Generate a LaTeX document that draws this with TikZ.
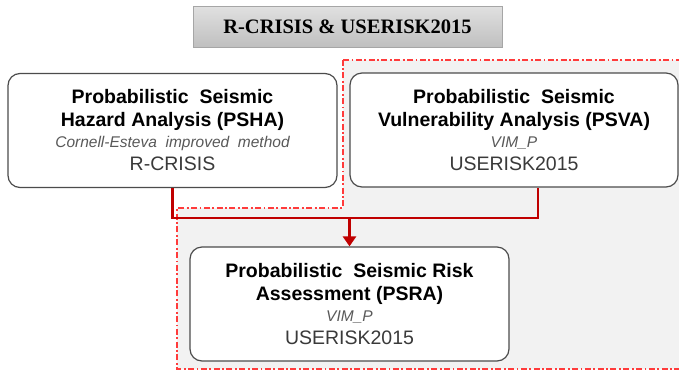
\documentclass[tikz,border=0pt]{standalone}
\usepackage{fontspec}
\setmainfont{Liberation Sans}
\newfontfamily\titlefont{Liberation Serif}
\usepackage{xcolor}
\usetikzlibrary{arrows.meta, positioning, calc}
\definecolor{linkred}{HTML}{C00000}
\definecolor{zonered}{HTML}{FF3B3B}
\definecolor{zonefill}{HTML}{F2F2F2}
\definecolor{notegray}{HTML}{595959}
\definecolor{toolgray}{HTML}{3A3A3A}

\begin{document}
\begin{tikzpicture}[x=1pt, y=-1pt,
    stage/.style={rectangle, rounded corners=12pt, draw=black!70, line width=1.2pt, fill=white, align=center, minimum height=114pt, inner sep=0pt, font=\fontsize{19.5}{23}\selectfont},
    header/.style={rectangle, draw=black!35, top color=black!12, bottom color=black!25, minimum width=309pt, minimum height=41pt, font=\titlefont\bfseries\fontsize{20.5}{24}\selectfont},
    link/.style={draw=linkred, line width=2.8pt},
    zone/.style={draw=zonered, fill=zonefill, line width=1.5pt, dash pattern=on 6pt off 2.5pt on 1.8pt off 2.5pt}]

    \useasboundingbox[fill=white] (0,0) rectangle (679,370);
    \path[zone] (343,60) -- (690,60) -- (690,369) -- (177,369) -- (177,208) -- (343,208) -- cycle;

    \node [header] (title) at (347.5,26.5) {R-CRISIS \& USERISK2015};

    \node [stage, minimum width=329pt] (psha) at (172.5,130.5) {\textbf{Probabilistic\ \ Seismic}\\\textbf{Hazard Analysis (PSHA)}\\[-2pt]{\fontsize{15.5}{18}\selectfont\itshape\color{notegray}Cornell-Esteva\ \ improved\ \ method}\\{\color{toolgray}R-CRISIS}};
    \node [stage, minimum width=328pt] (psva) at (514,130) {\textbf{Probabilistic\ \ Seismic}\\\textbf{Vulnerability Analysis (PSVA)}\\[-2pt]{\fontsize{15.5}{18}\selectfont\itshape\color{notegray}VIM\_P}\\{\color{toolgray}USERISK2015}};
    \node [stage, minimum width=319pt] (psra) at (349.5,304) {\textbf{Probabilistic\ \ Seismic Risk}\\\textbf{Assessment (PSRA)}\\[-2pt]{\fontsize{15.5}{18}\selectfont\itshape\color{notegray}VIM\_P}\\{\color{toolgray}USERISK2015}};

    \coordinate (split) at (349.5,218);
    \draw [link] (psha.south) |- (split) -| ($(psva.south)+(24,0)$);
    \draw [link, -{Triangle[length=10pt,width=13pt]}] (split) -- (psra.north);
\end{tikzpicture}
\end{document}
